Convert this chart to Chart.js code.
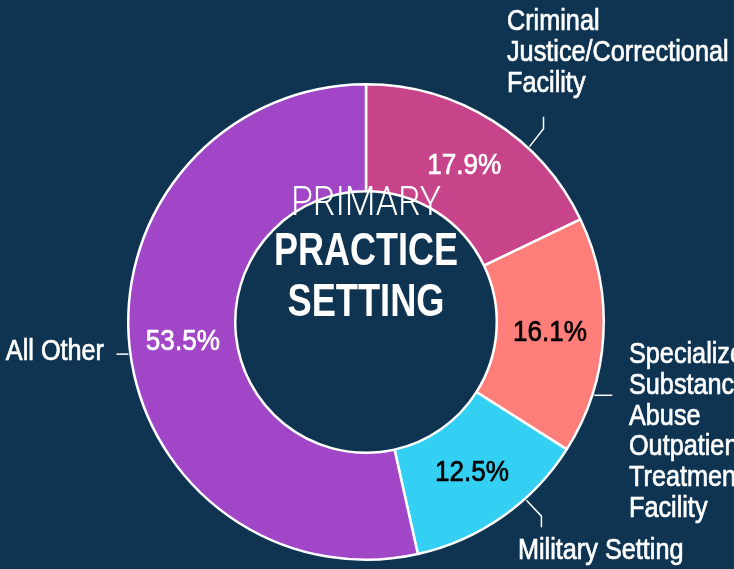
<!DOCTYPE html>
<html lang="en">
  <head>
    <meta charset="utf-8" />
    <title>Primary Practice Setting</title>
    <style>
      * {
        margin: 0;
        padding: 0;
      }
      body {
        background: #0f3452;
        width: 734px;
        height: 569px;
        overflow: hidden;
      }
    </style>
  </head>
  <body>
    <canvas id="myChart" width="734" height="569"></canvas>

    <script src="https://cdn.jsdelivr.net/npm/chart.js"></script>

    <script>
      const labels = [
        ["Criminal", "Justice/Correctional", "Facility"],
        ["Specialized", "Substance", "Abuse", "Outpatient", "Treatment", "Facility"],
        ["Military Setting"],
        ["All Other"],
      ];
      const shares = [17.9, 16.1, 12.5, 53.5];
      const sliceColors = ["#c7448a", "#ff7e79", "#33d0f4", "#a046c7"];
      const pctColors = ["#ffffff", "#000000", "#000000", "#ffffff"];

      const SANS = '"Liberation Sans", Arial, sans-serif';
      const SQUEEZE = 0.87; // fake a condensed face

      // callout layout: angle on the rim (deg, clockwise from 3 o'clock),
      // leader segments and where the label block sits (relative to centre)
      const callouts = [
        { angle: -47, path: [[14, -18], [0, -12]], tx: 141, ty: -300, align: "left" },
        { angle: 17.8, path: [[18, 0]], tx: 263, ty: 33, align: "left" },
        { angle: 48, path: [[15, 16], [0, 11]], tx: 152, ty: 229, align: "left" },
        { angle: 172.3, path: [[-12, 0]], tx: -262, ty: 30, align: "right" },
      ];

      const labelPlugin = {
        id: "labelPlugin",
        afterDraw(chart) {
          const { ctx } = chart;
          const arcs = chart.getDatasetMeta(0).data;
          const cx = arcs[0].x;
          const cy = arcs[0].y;
          const outer = arcs[0].outerRadius;
          ctx.save();

          function squeezed(str, x, y, align, sx, heavy) {
            ctx.save();
            ctx.translate(x, y);
            ctx.scale(sx, 1);
            ctx.textAlign = align;
            ctx.fillText(str, 0, 0);
            if (heavy) {
              // a touch heavier, like the medium weight in the original
              ctx.lineWidth = 0.7;
              ctx.strokeStyle = ctx.fillStyle;
              ctx.strokeText(str, 0, 0);
            }
            ctx.restore();
          }

          // percentages inside the ring
          ctx.font = "30px " + SANS;
          ctx.textBaseline = "middle";
          arcs.forEach((arc, i) => {
            const p = arc.tooltipPosition();
            ctx.fillStyle = pctColors[i];
            squeezed(shares[i].toFixed(1) + "%", p.x, p.y, "center", SQUEEZE, true);
          });

          // leader lines and category labels
          ctx.strokeStyle = "#ffffff";
          ctx.lineWidth = 1.5;
          ctx.fillStyle = "#ffffff";
          ctx.font = "29px " + SANS;
          callouts.forEach((c, i) => {
            const a = (c.angle * Math.PI) / 180;
            let x = cx + Math.cos(a) * (outer + 2);
            let y = cy + Math.sin(a) * (outer + 2);
            ctx.strokeStyle = "#ffffff";
            ctx.lineWidth = 1.5;
            ctx.beginPath();
            ctx.moveTo(x, y);
            c.path.forEach(([dx, dy]) => {
              x += dx;
              y += dy;
              ctx.lineTo(x, y);
            });
            ctx.stroke();

            labels[i].forEach((line, j) => {
              squeezed(line, cx + c.tx, cy + c.ty + j * 30.8, c.align, SQUEEZE, true);
            });
          });

          // centre title, stretched to the widths in the original
          ctx.textBaseline = "alphabetic";
          fitText("PRIMARY", "300 40px Roboto, " + SANS, cy - 107, 150);
          fitText("PRACTICE", "bold 46px " + SANS, cy - 57, 184);
          fitText("SETTING", "bold 46px " + SANS, cy - 6, 157);

          function fitText(str, font, y, width) {
            ctx.font = font;
            const w = ctx.measureText(str).width;
            squeezed(str, cx, y, "center", width / w, false);
          }
          ctx.restore();
        },
      };

      const config = {
        type: "doughnut",
        data: {
          labels: labels.map((l) => l.join(" ")),
          datasets: [
            {
              data: shares,
              backgroundColor: sliceColors,
              borderColor: "#ffffff",
              borderWidth: 2.5,
            },
          ],
        },
        options: {
          responsive: false,
          animation: false,
          cutout: "55%",
          layout: {
            padding: { left: 127, right: 129, top: 83, bottom: 8 },
          },
          plugins: {
            legend: { display: false },
            tooltip: { enabled: false },
          },
        },
        plugins: [labelPlugin],
      };

      const myChart = new Chart(document.getElementById("myChart"), config);
    </script>
  </body>
</html>
